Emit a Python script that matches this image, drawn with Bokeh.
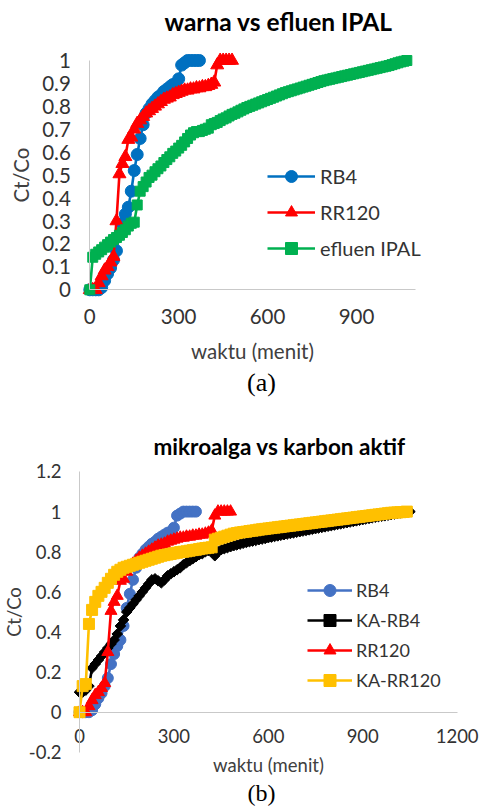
from bokeh.plotting import figure
from bokeh.models import Range1d, FixedTicker, Legend, LegendItem, Label
from bokeh.layouts import column
from bokeh.embed import file_html
from bokeh.resources import INLINE

# ---------------- data ----------------
TIME = [0, 10, 20, 30, 40, 50, 60, 70, 80, 90,
        100, 110, 120, 130, 140, 150, 160, 170, 180, 190,
        200, 210, 220, 230, 240, 250, 260, 270, 280, 290,
        300, 310, 320, 330, 340, 350, 360, 370, 380, 390,
        400, 410, 420, 430, 440, 450, 460, 470, 480, 490,
        500, 510, 520, 530, 540, 550, 560, 570, 580, 590,
        600, 610, 620, 630, 640, 650, 660, 670, 680, 690,
        700, 710, 720, 730, 740, 750, 760, 770, 780, 790,
        800, 810, 820, 830, 840, 850, 860, 870, 880, 890,
        900, 910, 920, 930, 940, 950, 960, 970, 980, 990,
        1000, 1010, 1020, 1030, 1040, 1050, 1060, 1070]

RB4 = [0.00, 0.00, 0.00, 0.00, 0.01, 0.04, 0.07, 0.095, 0.13, 0.17,
       0.24, 0.29, 0.33, 0.36, 0.43, 0.52, 0.59, 0.66, 0.72, 0.77,
       0.79, 0.81, 0.825, 0.84, 0.85, 0.865, 0.875, 0.885, 0.895, 0.90,
       0.92, 0.98, 0.99, 1.0, 1.0, 1.0, 1.0, 1.0]

RR120 = [0.0, 0.0, 0.0, 0.03, 0.06, 0.085, 0.10, 0.12, 0.145, 0.30,
         0.505, 0.55, 0.58, 0.655, 0.665, 0.70, 0.725, 0.74, 0.755, 0.77,
         0.78, 0.79, 0.80, 0.81, 0.82, 0.83, 0.835, 0.84, 0.85, 0.855,
         0.86, 0.865, 0.87, 0.87, 0.875, 0.875, 0.88, 0.88, 0.885, 0.885,
         0.89, 0.895, 0.905, 0.98, 1.0, 1.0, 1.0, 1.0, 1.0]

IPAL = [0.0, 0.142, 0.155, 0.165, 0.175, 0.186, 0.197, 0.208, 0.219, 0.228,
        0.238, 0.25, 0.262, 0.278, 0.29, 0.295, 0.37, 0.43, 0.45, 0.47,
        0.49, 0.50, 0.515, 0.528, 0.54, 0.555, 0.568, 0.58, 0.595, 0.605,
        0.618, 0.63, 0.645, 0.66, 0.675, 0.685, 0.69, 0.69, 0.695, 0.70,
        0.705, 0.72, 0.725, 0.73, 0.738, 0.745, 0.75, 0.758, 0.765, 0.77,
        0.776, 0.783, 0.789, 0.795, 0.80, 0.805, 0.81, 0.815, 0.82, 0.825,
        0.83, 0.835, 0.84, 0.845, 0.85, 0.855, 0.86, 0.864, 0.868, 0.872,
        0.876, 0.88, 0.884, 0.888, 0.892, 0.896, 0.90, 0.904, 0.908, 0.912,
        0.915, 0.918, 0.921, 0.924, 0.927, 0.93, 0.933, 0.936, 0.939, 0.942,
        0.945, 0.948, 0.951, 0.954, 0.957, 0.96, 0.963, 0.966, 0.969, 0.972,
        0.975, 0.978, 0.982, 0.986, 0.99, 0.994, 0.997, 1.0]

KA_RB4 = [0.10, 0.10, 0.11, 0.13, 0.22, 0.24, 0.26, 0.28, 0.30, 0.32,
          0.34, 0.36, 0.39, 0.43, 0.46, 0.50, 0.52, 0.54, 0.56, 0.58,
          0.60, 0.62, 0.64, 0.66, 0.665, 0.655, 0.645, 0.66, 0.68, 0.69,
          0.70, 0.71, 0.72, 0.735, 0.745, 0.755, 0.765, 0.775, 0.785, 0.79,
          0.80, 0.805, 0.81, 0.78, 0.80, 0.81, 0.815, 0.82, 0.825, 0.83,
          0.834, 0.838, 0.842, 0.846, 0.85, 0.853, 0.856, 0.86, 0.863, 0.866,
          0.87, 0.873, 0.876, 0.879, 0.882, 0.885, 0.888, 0.891, 0.894, 0.897,
          0.90, 0.903, 0.906, 0.909, 0.912, 0.915, 0.918, 0.921, 0.924, 0.927,
          0.93, 0.933, 0.936, 0.939, 0.942, 0.945, 0.948, 0.951, 0.954, 0.957,
          0.96, 0.963, 0.966, 0.969, 0.972, 0.975, 0.977, 0.979, 0.982, 0.985,
          0.988, 0.991, 0.994, 0.996, 0.998, 1.0]

KA_RR120 = [0.0, 0.13, 0.14, 0.44, 0.51, 0.55, 0.58, 0.60, 0.62, 0.645,
            0.665, 0.685, 0.70, 0.71, 0.72, 0.725, 0.73, 0.735, 0.74, 0.745,
            0.75, 0.755, 0.76, 0.765, 0.77, 0.775, 0.78, 0.783, 0.786, 0.789,
            0.792, 0.795, 0.798, 0.80, 0.802, 0.805, 0.808, 0.81, 0.813, 0.816,
            0.818, 0.82, 0.822, 0.86, 0.865, 0.87, 0.875, 0.88, 0.885, 0.89,
            0.893, 0.896, 0.898, 0.90, 0.903, 0.905, 0.907, 0.91, 0.912, 0.914,
            0.916, 0.918, 0.92, 0.922, 0.924, 0.926, 0.928, 0.93, 0.932, 0.934,
            0.936, 0.938, 0.94, 0.942, 0.944, 0.946, 0.948, 0.95, 0.952, 0.954,
            0.956, 0.958, 0.96, 0.962, 0.964, 0.966, 0.968, 0.97, 0.972, 0.974,
            0.976, 0.978, 0.98, 0.982, 0.984, 0.986, 0.988, 0.99, 0.992, 0.994,
            0.995, 0.996, 0.997, 0.998, 1.0]

XTICKS_A = [0, 300, 600, 900]
XTICKS_B = [0, 300, 600, 900, 1200]
YTICKS_A = [0, 0.1, 0.2, 0.3, 0.4, 0.5, 0.6, 0.7, 0.8, 0.9, 1]
YLABELS_A = ["0", "0.1", "0.2", "0.3", "0.4", "0.5", "0.6", "0.7", "0.8", "0.9", "1"]
YTICKS_B = [-0.2, 0, 0.2, 0.4, 0.6, 0.8, 1, 1.2]
YLABELS_B = ["-0.2", "0", "0.2", "0.4", "0.6", "0.8", "1", "1.2"]

TITLE_A = "warna vs efluen IPAL"
TITLE_B = "mikroalga vs karbon aktif"
CAPTION_A = "(a)"
CAPTION_B = "(b)"
XLABEL = "waktu (menit)"
YLABEL = "Ct/Co"

# ---------------- layout / style ----------------
W = 480
FONT = "Lato"
AXIS_COLOR = "#C9C9C9"
TICK_COLOR = "#333333"
LABEL_COLOR = "#404040"


def make_fig(h, x0, pxm, y0, pxv, xbounds, ybounds, xticks, yticks, ylabels,
             fs, xl_stand, yl_stand, xa_stand, ya_stand):
    p = figure(width=W, height=h, output_backend="svg", toolbar_location=None,
               x_range=Range1d(-x0 / pxm, (W - x0) / pxm),
               y_range=Range1d(-(h - y0) / pxv, y0 / pxv),
               min_border=0, min_border_left=0, min_border_right=0,
               min_border_top=0, min_border_bottom=0)
    p.outline_line_color = None
    p.grid.visible = False
    p.background_fill_color = "white"
    p.border_fill_color = "white"

    xa = p.xaxis[0]
    xa.fixed_location = 0
    xa.bounds = xbounds
    xa.ticker = FixedTicker(ticks=xticks)
    ya = p.yaxis[0]
    ya.fixed_location = 0
    ya.bounds = ybounds
    ya.ticker = FixedTicker(ticks=yticks)
    ya.major_label_overrides = {k: s for k, s in zip(yticks, ylabels)}
    for ax in (xa, ya):
        ax.axis_line_color = AXIS_COLOR
        ax.axis_line_width = 1
        ax.major_tick_line_color = None
        ax.minor_tick_line_color = None
        ax.major_tick_out = 0
        ax.major_tick_in = 0
        ax.major_label_text_font = FONT
        ax.major_label_text_font_size = fs
        ax.major_label_text_color = TICK_COLOR
        ax.axis_label_text_font = FONT
        ax.axis_label_text_font_size = fs
        ax.axis_label_text_font_style = "normal"
        ax.axis_label_text_color = LABEL_COLOR
    xa.axis_label = XLABEL
    ya.axis_label = YLABEL
    xa.major_label_standoff = xl_stand
    ya.major_label_standoff = yl_stand
    xa.axis_label_standoff = xa_stand
    ya.axis_label_standoff = ya_stand
    return p


def add_series(p, values, color, marker, size, angle=0.0):
    t = TIME[:len(values)]
    rl = p.line(t, values, line_color=color, line_width=2.6)
    rm = p.scatter(t, values, marker=marker, size=size, angle=angle,
                   fill_color=color, line_color=color, line_width=1)
    return [rl, rm]


def add_text(p, text, x, y, font, size, style, color):
    p.add_layout(Label(x=x, y=y, x_units="screen", y_units="screen", text=text,
                       text_align="center", text_baseline="middle",
                       text_font=font, text_font_size=size,
                       text_font_style=style, text_color=color))


# ---------------- chart (a) ----------------
HA = 400
pa = make_fig(HA, 89.3, 0.2963, 289.3, 229.3, (0, 1100), (0, 1), XTICKS_A,
              YTICKS_A, YLABELS_A, "20.5px", 19, 19, 12, 6)
ra1 = add_series(pa, RB4, "#0070C0", "circle", 12)
ra2 = add_series(pa, RR120, "#FF0000", "triangle", 13)
ra3 = add_series(pa, IPAL, "#00B050", "square", 10)
leg_a = Legend(items=[LegendItem(label="RB4", renderers=ra1),
                      LegendItem(label="RR120", renderers=ra2),
                      LegendItem(label="efluen IPAL", renderers=ra3)],
               location=(267, 137), glyph_width=48, glyph_height=30,
               label_height=30, spacing=6, label_standoff=5, padding=0,
               margin=0, border_line_color=None, background_fill_alpha=0,
               label_text_font=FONT, label_text_font_size="20px",
               label_text_color=TICK_COLOR)
pa.add_layout(leg_a)
add_text(pa, TITLE_A, 278, HA - 21, FONT, "24.5px", "bold", "#000000")
add_text(pa, CAPTION_A, 261, HA - 382, "Liberation Serif", "26px", "normal", "#000000")

# ---------------- chart (b) ----------------
HB = 409
pb = make_fig(HB, 79.0, 0.3147, 311.7, 200.6, (0, 1200), (-0.2, 1.2), XTICKS_B,
              YTICKS_B, YLABELS_B, "18.5px", 17, 18, 7, 1)
rb1 = add_series(pb, RB4, "#4472C4", "circle", 11)
rb2 = add_series(pb, KA_RB4, "#000000", "square", 7.5, angle=0.785398)
rb3 = add_series(pb, RR120, "#FF0000", "triangle", 12)
rb4 = add_series(pb, KA_RR120, "#FFC000", "square", 11)
leg_b = Legend(items=[LegendItem(label="RB4", renderers=rb1),
                      LegendItem(label="KA-RB4", renderers=rb2),
                      LegendItem(label="RR120", renderers=rb3),
                      LegendItem(label="KA-RR120", renderers=rb4)],
               location=(307, 114), glyph_width=45, glyph_height=30,
               label_height=30, spacing=-6, label_standoff=4, padding=0,
               margin=0, border_line_color=None, background_fill_alpha=0,
               label_text_font=FONT, label_text_font_size="18px",
               label_text_color=TICK_COLOR)
pb.add_layout(leg_b)
add_text(pb, TITLE_B, 279, HB - 46, FONT, "22.5px", "bold", "#000000")
add_text(pb, CAPTION_B, 261, HB - 392, "Liberation Serif", "24px", "normal", "#000000")

layout = column(pa, pb)
open("out.html", "w").write(file_html(layout, INLINE))
